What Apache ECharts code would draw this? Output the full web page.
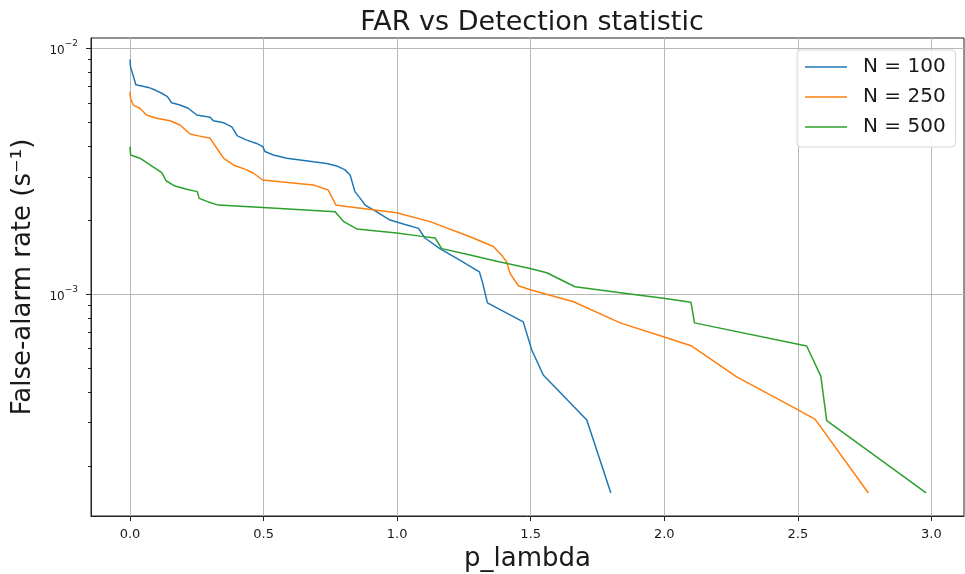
<!DOCTYPE html>
<html>
<head>
<meta charset="utf-8">
<title>FAR vs Detection statistic</title>
<script src="https://cdn.jsdelivr.net/npm/echarts@6/dist/echarts.min.js"></script>
<style>
  html, body { margin: 0; padding: 0; background: #fff; }
  #chart { width: 965px; height: 574px; }
</style>
</head>
<body>
<div id="chart"></div>
<script>
// p_lambda values and false-alarm rates (s^-1) for each template-bank size
const n100X = [0, 0.002, 0.022, 0.069, 0.094, 0.119, 0.14, 0.156, 0.187, 0.218, 0.25, 0.30, 0.312, 0.35, 0.381,
  0.402, 0.437, 0.474, 0.497, 0.505, 0.537, 0.587, 0.686, 0.736, 0.774, 0.805, 0.824, 0.842, 0.867, 0.88,
  0.924, 0.973, 1.036, 1.08, 1.104, 1.16, 1.236, 1.308, 1.32, 1.338, 1.472, 1.504, 1.547, 1.71, 1.80];
const n100Y = [9.0e-3, 8.4e-3, 7.1e-3, 6.93e-3, 6.76e-3, 6.56e-3, 6.36e-3, 6.0e-3, 5.88e-3, 5.7e-3, 5.35e-3, 5.24e-3, 5.07e-3, 4.98e-3, 4.79e-3,
  4.40e-3, 4.23e-3, 4.10e-3, 3.98e-3, 3.80e-3, 3.68e-3, 3.57e-3, 3.45e-3, 3.40e-3, 3.32e-3, 3.20e-3, 3.05e-3, 2.61e-3, 2.41e-3, 2.30e-3,
  2.16e-3, 2.0e-3, 1.91e-3, 1.85e-3, 1.69e-3, 1.53e-3, 1.37e-3, 1.23e-3, 1.11e-3, 9.2e-4, 7.7e-4, 5.92e-4, 4.68e-4, 3.07e-4, 1.55e-4];

const n250X = [0, 0.002, 0.0125, 0.037, 0.062, 0.10, 0.15, 0.187, 0.225, 0.256, 0.30, 0.325, 0.35, 0.387, 0.437,
  0.462, 0.497, 0.562, 0.686, 0.742, 0.771, 0.811, 0.998, 1.123, 1.273, 1.36, 1.391, 1.41, 1.423, 1.454,
  1.498, 1.66, 1.835, 1.997, 2.103, 2.271, 2.496, 2.565, 2.764];
const n250Y = [6.65e-3, 6.25e-3, 5.87e-3, 5.70e-3, 5.35e-3, 5.19e-3, 5.07e-3, 4.87e-3, 4.48e-3, 4.40e-3, 4.30e-3, 3.92e-3, 3.57e-3, 3.35e-3, 3.20e-3,
  3.10e-3, 2.91e-3, 2.86e-3, 2.78e-3, 2.65e-3, 2.30e-3, 2.27e-3, 2.14e-3, 1.97e-3, 1.71e-3, 1.56e-3, 1.44e-3, 1.35e-3, 1.21e-3, 1.08e-3,
  1.04e-3, 9.3e-4, 7.63e-4, 6.7e-4, 6.14e-4, 4.6e-4, 3.40e-4, 3.09e-4, 1.55e-4];

const n500X = [0, 0.002, 0.037, 0.075, 0.119, 0.135, 0.168, 0.212, 0.252, 0.259, 0.293, 0.331, 0.497, 0.768, 0.80,
  0.849, 0.998, 1.086, 1.142, 1.167, 1.273, 1.373, 1.498, 1.56, 1.666, 1.872, 1.997, 2.10, 2.113, 2.533,
  2.586, 2.608, 2.98];
const n500Y = [3.98e-3, 3.68e-3, 3.57e-3, 3.35e-3, 3.12e-3, 2.89e-3, 2.75e-3, 2.67e-3, 2.61e-3, 2.45e-3, 2.37e-3, 2.30e-3, 2.25e-3, 2.16e-3, 1.97e-3,
  1.84e-3, 1.77e-3, 1.72e-3, 1.69e-3, 1.53e-3, 1.44e-3, 1.36e-3, 1.27e-3, 1.22e-3, 1.07e-3, 1.0e-3, 9.6e-4, 9.25e-4, 7.63e-4, 6.14e-4,
  4.63e-4, 3.05e-4, 1.55e-4];

const seriesNames = ['N = 100', 'N = 250', 'N = 500'];
const seriesColors = ['#1f77b4', '#ff7f0e', '#2ca02c'];

// axis ticks
const xTicks = [0, 0.5, 1.0, 1.5, 2.0, 2.5, 3.0];
const yMajorTicks = [1e-3, 1e-2];
const yMinorTicks = [2e-4, 3e-4, 4e-4, 5e-4, 6e-4, 7e-4, 8e-4, 9e-4,
  2e-3, 3e-3, 4e-3, 5e-3, 6e-3, 7e-3, 8e-3, 9e-3];

const FONT = 'DejaVu Sans';
const INK = '#1a1a1a';
const X_MIN = -0.146, X_MAX = 3.122;
const Y_MIN = 1.249e-4, Y_MAX = 1.101e-2;

const zip = (xs, ys) => xs.map((x, i) => [x, ys[i]]);
const seriesData = [zip(n100X, n100Y), zip(n250X, n250Y), zip(n500X, n500Y)];

const chart = echarts.init(document.getElementById('chart'), null, { renderer: 'canvas' });

const superMinus = '\u2212';

chart.setOption({
  animation: false,
  backgroundColor: '#ffffff',
  textStyle: { fontFamily: FONT },
  title: {
    text: 'FAR vs Detection statistic',
    left: 527,
    top: 4,
    textAlign: 'center',
    textStyle: { fontFamily: FONT, fontSize: 27, fontWeight: 'normal', color: INK }
  },
  legend: {
    data: seriesNames,
    orient: 'vertical',
    left: 797,
    top: 50,
    padding: [6, 10, 9, 8],
    icon: 'rect',
    itemWidth: 42,
    itemHeight: 1.5,
    itemGap: 8,
    backgroundColor: 'rgba(255,255,255,0.85)',
    borderColor: '#d6d6d6',
    borderWidth: 1,
    borderRadius: 4,
    textStyle: { fontFamily: FONT, fontSize: 20, color: INK, lineHeight: 22, padding: [0, 0, 0, 11] }
  },
  grid: {
    left: 91, right: 1, top: 38, bottom: 58,
    outerBoundsMode: 'none',
    containLabel: false,
    show: true, borderColor: '#222', borderWidth: 1, backgroundColor: 'transparent'
  },
  xAxis: {
    type: 'value',
    min: X_MIN,
    max: X_MAX,
    name: 'p_lambda',
    nameLocation: 'middle',
    nameGap: 30,
    nameTextStyle: { fontFamily: FONT, fontSize: 26, color: INK },
    axisLine: { show: true, onZero: false, lineStyle: { color: '#222', width: 1 } },
    axisTick: { show: true, customValues: xTicks, length: 5, lineStyle: { color: '#222' } },
    axisLabel: {
      customValues: xTicks, margin: 12,
      fontFamily: FONT, fontSize: 13, color: INK,
      formatter: v => v.toFixed(1)
    },
    splitLine: { show: true, lineStyle: { color: '#b8b8b8', width: 1 } }
  },
  yAxis: [{
    type: 'log',
    logBase: 10,
    min: Y_MIN,
    max: Y_MAX,
    position: 'left',
    name: 'False-alarm rate (s\u207B\u00B9)',
    nameLocation: 'middle',
    nameGap: 55,
    nameTextStyle: { fontFamily: FONT, fontSize: 26, color: INK },
    axisLine: { show: true, onZero: false, lineStyle: { color: '#222', width: 1 } },
    axisTick: { show: true, customValues: yMajorTicks, length: 5, lineStyle: { color: '#222' } },
    axisLabel: {
      customValues: yMajorTicks, margin: 13,
      fontFamily: FONT, color: INK,
      formatter: v => {
        const e = Math.round(Math.log10(v));
        return '{b|10}{s|' + (e < 0 ? superMinus : '') + Math.abs(e) + '}';
      },
      rich: {
        b: { fontFamily: FONT, fontSize: 12, color: INK, verticalAlign: 'bottom', lineHeight: 18 },
        s: { fontFamily: FONT, fontSize: 9, color: INK, verticalAlign: 'top', lineHeight: 18 }
      }
    },
    splitLine: { show: true, lineStyle: { color: '#b8b8b8', width: 1 } }
  }, {
    // minor ticks of the logarithmic axis (2..9 x 10^k)
    type: 'log',
    logBase: 10,
    min: Y_MIN,
    max: Y_MAX,
    position: 'left',
    offset: 0,
    axisLine: { show: false, onZero: false },
    axisTick: { show: true, customValues: yMinorTicks, length: 3, lineStyle: { color: '#222' } },
    axisLabel: { show: false },
    splitLine: { show: false }
  }],
  series: seriesNames.map((name, i) => ({
    name: name,
    type: 'line',
    xAxisIndex: 0,
    yAxisIndex: 0,
    data: seriesData[i],
    showSymbol: false,
    symbol: 'none',
    color: seriesColors[i],
    lineStyle: { color: seriesColors[i], width: 1.5 },
    z: 3 + i
  }))
});
</script>
</body>
</html>
